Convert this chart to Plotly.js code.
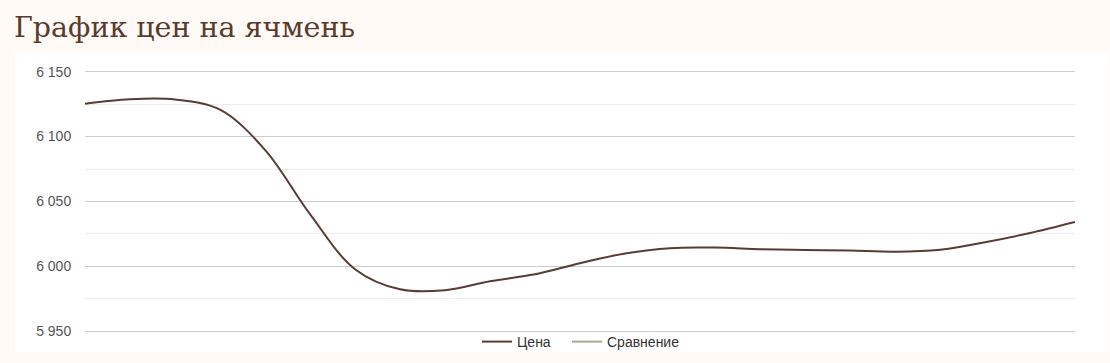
<!DOCTYPE html>
<html>
<head>
<meta charset="utf-8">
<script src="https://cdn.plot.ly/plotly-3.0.1.min.js"></script>
<style>
html,body{margin:0;padding:0;background:#fffaf6;}
#chart{width:1110px;height:363px;}
</style>
</head>
<body>
<div id="chart"></div>
<script>
// Point index along the time axis
const points = [0,1,2,3,4,5,6,7,8,9,10,11,12,13,14,15,16,17,18,19,20,21,22];
// Price series (Цена)
const price = [6125.3,6128.7,6128.5,6120.7,6089.8,6040.3,5997.9,5982.4,5981.7,5988.6,5994.0,6002.5,6009.9,6014.1,6014.5,6013.3,6012.7,6012.2,6011.4,6012.9,6018.7,6025.7,6034.2];
// Comparison series (Сравнение) – no data in the reference
const compare = [null];
const comparePoints = [null];
const seriesNames = ["Цена","Сравнение"];
const titleText = "График цен на ячмень";
const yTicks = [5950,6000,6050,6100,6150];

const traces = [
  {x: points, y: price, name: seriesNames[0], type: 'scatter', mode: 'lines', legend: 'legend',
   line: {color: '#5a3b34', width: 2, shape: 'spline', smoothing: 1}, hoverinfo: 'y'},
  {x: comparePoints, y: compare, name: seriesNames[1], type: 'scatter', mode: 'lines', legend: 'legend2',
   line: {color: '#a9aa93', width: 2}, showlegend: true}
];

const legendFont = {family: 'Liberation Sans, Arial, sans-serif', size: 14, color: '#333333'};

const layout = {
  width: 1110, height: 363,
  margin: {l: 85, r: 35, t: 69, b: 29, autoexpand: false},
  paper_bgcolor: '#fffaf6',
  plot_bgcolor: '#ffffff',
  separators: ', ',
  title: {text: titleText, xref: 'container', yref: 'container', x: 14/1110, xanchor: 'left',
          y: 1 - 27/363, yanchor: 'middle',
          font: {family: 'DejaVu Serif, Liberation Serif, serif', size: 28.5, color: '#5b3a2e'}},
  xaxis: {showgrid: false, zeroline: false, showticklabels: false, showline: false,
          range: [0, points.length - 1], fixedrange: true},
  yaxis: {range: [5948, 6152], tickvals: yTicks, separatethousands: true,
          showgrid: true, gridcolor: '#cccccc', gridwidth: 1, zeroline: false, showline: false,
          ticks: 'outside', ticklen: 10, tickcolor: 'rgba(0,0,0,0)',
          tickfont: {family: 'Liberation Sans, Arial, sans-serif', size: 14, color: '#555555'},
          minor: {dtick: 25, showgrid: true, gridcolor: '#ececec', gridwidth: 1}},
  showlegend: true,
  legend: {orientation: 'h', xref: 'container', x: 477/1110, xanchor: 'left',
           yref: 'container', y: 1 - 342/363, yanchor: 'middle',
           font: legendFont, bgcolor: 'rgba(0,0,0,0)'},
  legend2: {orientation: 'h', xref: 'container', x: 567/1110, xanchor: 'left',
           yref: 'container', y: 1 - 342/363, yanchor: 'middle',
           font: legendFont, bgcolor: 'rgba(0,0,0,0)'},
  shapes: [{type: 'rect', xref: 'paper', yref: 'paper', x0: (15-85)/990, x1: (1109-85)/990,
            y0: (334-352)/265, y1: (334-52)/265, fillcolor: '#ffffff', line: {width: 0}, layer: 'below'}]
};

Plotly.newPlot('chart', traces, layout, {displayModeBar: false, staticPlot: true});
</script>
</body>
</html>
